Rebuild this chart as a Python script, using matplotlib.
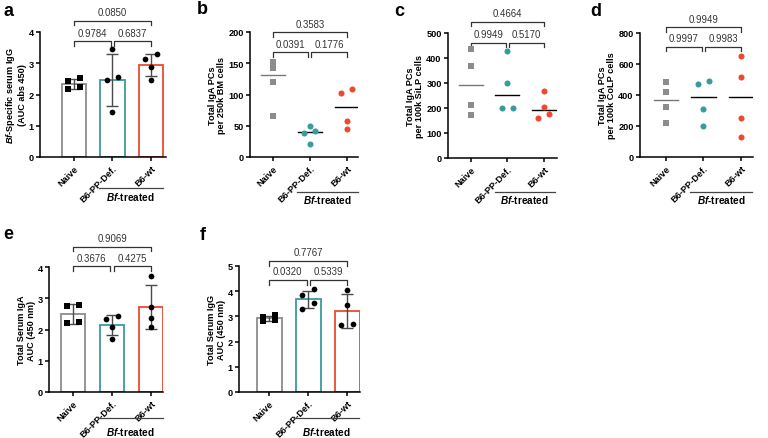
import numpy as np
import matplotlib.pyplot as plt

plt.rcParams['font.family'] = 'Liberation Sans'
plt.rcParams['mathtext.fontset'] = 'custom'
plt.rcParams['mathtext.it'] = 'Liberation Sans:italic:bold'
plt.rcParams['mathtext.rm'] = 'Liberation Sans:bold'

groups = ['Naive', 'B6-PP-Def.', 'B6-wt']
colors = ['#8c8c8c', '#3a9b9b', '#ec4a2e']

# a: Bf-specific serum IgG
a_naive = [2.53, 2.43, 2.25, 2.17]
a_ppdef = [3.46, 2.57, 2.45, 1.43]
a_wt = [3.29, 3.14, 2.87, 2.48]
a_p = ['0.9784', '0.6837', '0.0850']

# b: IgA PCs per 250k BM cells
b_naive = [152, 142, 120, 66]
b_ppdef = [49, 41, 39, 21]
b_wt = [109, 103, 57, 45]
b_p = ['0.0391', '0.1776', '0.3583']

# c: IgA PCs per 100k SiLP cells
c_naive = [438, 369, 214, 174]
c_ppdef = [429, 301, 200, 200]
c_wt = [267, 203, 178, 162]
c_p = ['0.9949', '0.5170', '0.4664']

# d: IgA PCs per 100k CoLP cells
d_naive = [482, 420, 320, 220]
d_ppdef = [491, 470, 309, 202]
d_wt = [652, 519, 249, 131]
d_p = ['0.9997', '0.9983', '0.9949']

# e: total serum IgA
e_naive = [2.78, 2.74, 2.23, 2.20]
e_ppdef = [2.42, 2.35, 2.08, 1.70]
e_wt = [3.72, 2.71, 2.36, 2.09]
e_p = ['0.3676', '0.4275', '0.9069']

# f: total serum IgG
f_naive = [3.06, 2.96, 2.84, 2.82]
f_ppdef = [4.07, 3.83, 3.54, 3.28]
f_wt = [4.03, 3.46, 2.70, 2.64]
f_p = ['0.0320', '0.5339', '0.7767']

W, H = 768, 439
fig = plt.figure(figsize=(W / 100, H / 100), dpi=100)


def px_axes(l, t, r, b):
    return fig.add_axes([l / W, 1 - b / H, (r - l) / W, (b - t) / H])


def spread(vals, thresh):
    # GraphPad-like scatter: close values get pushed side by side
    order = np.argsort(vals)[::-1]
    off = np.zeros(len(vals))
    clusters, cur = [], [order[0]]
    for i in order[1:]:
        if abs(vals[cur[-1]] - vals[i]) < thresh:
            cur.append(i)
        else:
            clusters.append(cur)
            cur = [i]
    clusters.append(cur)
    for cl in clusters:
        if len(cl) > 1:
            for k, i in enumerate(cl):
                off[i] = 0.15 if k % 2 == 0 else -0.15
    return off


def setup(ax, ymax, step, xlim, ylabel):
    ax.set_xlim(*xlim)
    ax.set_ylim(0, ymax)
    ax.set_yticks(np.arange(0, ymax + step / 2, step))
    ax.set_xticks(range(3))
    ax.set_xticklabels(groups, rotation=45, ha='right', rotation_mode='anchor',
                       fontsize=6.6, fontweight='bold')
    for lab in ax.get_yticklabels():
        lab.set_fontsize(6.6)
        lab.set_fontweight('bold')
    for s in ['top', 'right']:
        ax.spines[s].set_visible(False)
    for s in ['left', 'bottom']:
        ax.spines[s].set_linewidth(1.1)
    ax.tick_params(width=1.1, length=3, pad=1.5)
    ax.set_ylabel(ylabel, fontsize=6.6, fontweight='bold', labelpad=1.5, linespacing=1.1)


def brackets(ax, pvals, low, high, drop):
    kw = dict(color='#333333', lw=0.9, clip_on=False)
    ax.plot([0, 0, 0.96, 0.96], [low - drop, low, low, low - drop], **kw)
    ax.plot([1.04, 1.04, 2, 2], [low - drop, low, low, low - drop], **kw)
    ax.plot([0, 0, 2, 2], [high - drop, high, high, high - drop], **kw)
    for x, y, s in [(0.48, low, pvals[0]), (1.52, low, pvals[1]), (1.0, high, pvals[2])]:
        ax.annotate(s, (x, y), xytext=(0, 2.5), textcoords='offset points',
                    ha='center', va='bottom', fontsize=6.9, color='#333333',
                    annotation_clip=False)


def treated(ax, line_y, text_y):
    tr = ax.get_xaxis_transform()
    ax.plot([0.65, 2.3], [line_y, line_y], color='#444444', lw=0.9,
            transform=tr, clip_on=False)
    ax.text(1.475, text_y, r'$\mathit{Bf}$-treated', transform=tr, ha='center',
            va='center', fontsize=7.2, fontweight='bold')


def bar_panel(ax, data, ymax, width):
    for i, vals in enumerate(data):
        vals = np.array(vals)
        m, sd = vals.mean(), vals.std(ddof=1)
        ax.bar(i, m, width=width, color='white', edgecolor=colors[i], lw=1.3, zorder=1)
        ax.errorbar(i, m, yerr=sd, color='#4a4a4a', capsize=4, lw=1, capthick=1, zorder=2)
        mk = 's' if i == 0 else 'o'
        ax.scatter(i + spread(vals, ymax * 0.06), vals, marker=mk, s=17,
                   color='black', zorder=3, linewidths=0)


def dot_panel(ax, data, ymax):
    for i, vals in enumerate(data):
        vals = np.array(vals)
        mk = 's' if i == 0 else 'o'
        ax.scatter(i + spread(vals, ymax * 0.04), vals, marker=mk, s=19,
                   color=colors[i], zorder=3, linewidths=0)
        med = np.median(vals)
        lc = '#777777' if i == 0 else 'black'
        ax.plot([i - 0.33, i + 0.33], [med, med], color=lc, lw=1, zorder=2)


# panel a
ax = px_axes(40, 33, 166, 158)
bar_panel(ax, [a_naive, a_ppdef, a_wt], 4, 0.63)
setup(ax, 4, 1, (-0.88, 2.39),
      '$\\mathit{Bf}$-Specific serum IgG\n(AUC abs 450)')
brackets(ax, a_p, 3.71, 4.36, 0.15)
treated(ax, -0.25, -0.31)

# panel b
ax = px_axes(250, 33, 358, 158)
dot_panel(ax, [b_naive, b_ppdef, b_wt], 200)
setup(ax, 200, 50, (-0.62, 2.3), 'Total IgA PCs\nper 250k BM cells')
brackets(ax, b_p, 168, 200, 7.5)
treated(ax, -0.28, -0.34)

# panel c
ax = px_axes(448, 34, 557, 159)
dot_panel(ax, [c_naive, c_ppdef, c_wt], 500)
setup(ax, 500, 100, (-0.63, 2.36), 'Total IgA PCs\nper 100k SiLP cells')
brackets(ax, c_p, 462, 545, 18)
treated(ax, -0.27, -0.33)

# panel d
ax = px_axes(640, 34, 753, 158)
dot_panel(ax, [d_naive, d_ppdef, d_wt], 800)
setup(ax, 800, 200, (-0.69, 2.32), 'Total IgA PCs\nper 100k CoLP cells')
brackets(ax, d_p, 712, 837, 30)
treated(ax, -0.28, -0.34)

# panel e
ax = px_axes(49, 268, 163, 393)
bar_panel(ax, [e_naive, e_ppdef, e_wt], 4, 0.62)
setup(ax, 4, 1, (-0.62, 2.31), 'Total Serum IgA\nAUC (450 nm)')
brackets(ax, e_p, 4.02, 4.65, 0.15)
treated(ax, -0.21, -0.31)

# panel f
ax = px_axes(239, 267, 360, 393)
bar_panel(ax, [f_naive, f_ppdef, f_wt], 5, 0.64)
setup(ax, 5, 1, (-0.77, 2.33), 'Total Serum IgG\nAUC (450 nm)')
brackets(ax, f_p, 4.46, 5.21, 0.2)
treated(ax, -0.21, -0.31)

for s, x, y in [('a', 8, 11), ('b', 202, 10), ('c', 399, 12), ('d', 596, 11),
                ('e', 8, 235), ('f', 203, 236)]:
    fig.text(x / W, 1 - y / H, s, fontsize=13, fontweight='bold', ha='center', va='center')

fig.savefig('out.png', dpi=100)
